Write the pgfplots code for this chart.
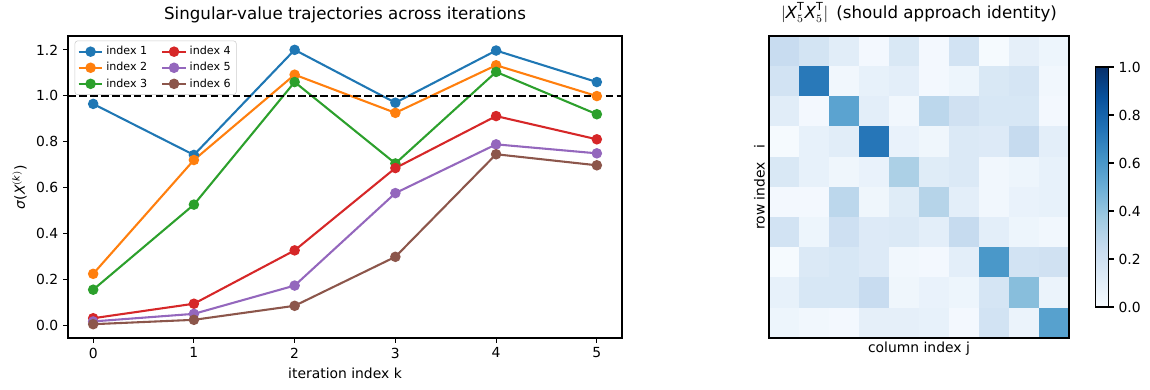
\documentclass[border=0pt]{standalone}
\usepackage{fontspec}
\setmainfont{DejaVu Sans}
\usepackage{amsmath}
\usepackage{pgfplots}
\pgfplotsset{compat=1.18}
\usepackage{pgfplotstable}

\definecolor{c1}{HTML}{1F77B4}
\definecolor{c2}{HTML}{FF7F0E}
\definecolor{c3}{HTML}{2CA02C}
\definecolor{c4}{HTML}{D62728}
\definecolor{c5}{HTML}{9467BD}
\definecolor{c6}{HTML}{8C564B}

\pgfplotstableread{
k s1 s2 s3 s4 s5 s6
0 0.965 0.226 0.157 0.033 0.019 0.007
1 0.743 0.721 0.527 0.096 0.052 0.026
2 1.200 1.092 1.060 0.328 0.175 0.087
3 0.970 0.926 0.706 0.686 0.577 0.300
4 1.197 1.133 1.104 0.912 0.789 0.746
5 1.060 0.999 0.920 0.811 0.750 0.698
}\traj

\pgfplotstableread{
x y c
0 0 0.24
1 0 0.18
2 0 0.11
3 0 0.02
4 0 0.15
5 0 0.02
6 0 0.19
7 0 0.01
8 0 0.09
9 0 0.05
0 1 0.19
1 1 0.72
2 1 0.03
3 1 0.08
4 1 0.10
5 1 0.02
6 1 0.05
7 1 0.15
8 1 0.17
9 1 0.03
0 2 0.11
1 2 0.02
2 2 0.55
3 2 0.10
4 2 0.03
5 2 0.28
6 2 0.20
7 2 0.16
8 2 0.16
9 2 0.02
0 3 0.01
1 3 0.08
2 3 0.11
3 3 0.73
4 3 0.07
5 3 0.04
6 3 0.14
7 3 0.13
8 3 0.25
9 3 0.10
0 4 0.15
1 4 0.08
2 4 0.04
3 4 0.07
4 4 0.33
5 4 0.12
6 4 0.14
7 4 0.03
8 4 0.05
9 4 0.08
0 5 0.02
1 5 0.02
2 5 0.28
3 5 0.04
4 5 0.12
5 5 0.30
6 5 0.10
7 5 0.03
8 5 0.07
9 5 0.08
0 6 0.19
1 6 0.05
2 6 0.21
3 6 0.13
4 6 0.14
5 6 0.10
6 6 0.25
7 6 0.10
8 6 0.05
9 6 0.03
0 7 0.01
1 7 0.14
2 7 0.16
3 7 0.13
4 7 0.03
5 7 0.02
6 7 0.10
7 7 0.60
8 7 0.19
9 7 0.20
0 8 0.08
1 8 0.16
2 8 0.16
3 8 0.24
4 8 0.04
5 8 0.07
6 8 0.05
7 8 0.17
8 8 0.43
9 8 0.06
0 9 0.05
1 9 0.03
2 9 0.02
3 9 0.09
4 9 0.09
5 9 0.08
6 9 0.02
7 9 0.19
8 9 0.06
9 9 0.56
}\gram

\newcommand{\iX}{\text{\itshape X}}

\begin{document}
\begin{tikzpicture}
\pgfplotsset{
  every axis/.append style={
    scale only axis,
    tick align=outside,
    major tick length=3.5pt,
    tick style={black, line width=0.8pt},
    axis line style={line width=0.8pt},
    tick label style={font=\fontsize{10}{12}\selectfont},
    label style={font=\fontsize{10}{12}\selectfont},
    title style={font=\fontsize{12}{14}\selectfont},
    /pgf/number format/assume math mode=true,
  },
}
\begin{axis}[
  at={(0pt,0pt)}, anchor=south west,
  width=398.9pt, height=217.4pt,
  xmin=-0.25, xmax=5.25, ymin=-0.053, ymax=1.26,
  xtick={0,1,2,3,4,5},
  ytick={0,0.2,0.4,0.6,0.8,1.0,1.2},
  xtick pos=bottom, ytick pos=left,
  yticklabel style={/pgf/number format/.cd, fixed, fixed zerofill, precision=1},
  xlabel={iteration index k},
  ylabel={\itshape σ\upshape(\itshape X\upshape$^{(\text{\itshape k})}$)},
  title={Singular-value trajectories across iterations},
  legend style={at={(0.012,0.985)}, anchor=north west, font=\fontsize{8}{9.5}\selectfont,
    draw=black!20, fill=white, rounded corners=2pt, legend columns=3,
    /tikz/every even column/.append style={column sep=8pt},
    inner sep=2pt, row sep=0pt},
  transpose legend,
  legend cell align=left,
  every axis plot/.append style={line width=1.5pt, mark=*, mark size=3pt},
]
\addplot[c1, mark options={fill=c1}] table[x=k, y=s1] {\traj};
\addlegendentry{index 1}
\addplot[c2, mark options={fill=c2}] table[x=k, y=s2] {\traj};
\addlegendentry{index 2}
\addplot[c3, mark options={fill=c3}] table[x=k, y=s3] {\traj};
\addlegendentry{index 3}
\addplot[c4, mark options={fill=c4}] table[x=k, y=s4] {\traj};
\addlegendentry{index 4}
\addplot[c5, mark options={fill=c5}] table[x=k, y=s5] {\traj};
\addlegendentry{index 5}
\addplot[c6, mark options={fill=c6}] table[x=k, y=s6] {\traj};
\addlegendentry{index 6}
\addplot[black, dashed, line width=1.5pt, mark=none, dash pattern=on 5.5pt off 2.4pt, forget plot] coordinates {(-0.25,1) (5.25,1)};
\end{axis}

\begin{axis}[
  at={(504.7pt,0pt)}, anchor=south west,
  width=216pt, height=217.4pt,
  xmin=-0.5, xmax=9.5, ymin=-0.5, ymax=9.5,
  y dir=reverse,
  axis on top,
  xtick=\empty, ytick=\empty,
  xlabel={column index j},
  ylabel={row index\quad i},
  xlabel style={yshift=4pt},
  ylabel style={yshift=-4pt},
  title={$|\iX_5^{\text{T}}\iX_5^{\text{T}}|$\enspace (should approach identity)},
  colormap={blues}{rgb255=(247,251,255) rgb255=(222,235,247) rgb255=(198,219,239) rgb255=(158,202,225) rgb255=(107,174,214) rgb255=(66,146,198) rgb255=(33,113,181) rgb255=(8,81,156) rgb255=(8,48,107)},
  point meta min=0, point meta max=1,
  colorbar,
  colorbar style={
    at={(parent axis.east)}, anchor=west, xshift=10.8pt,
    width=9.4pt, height=172.8pt,
    ytick={0,0.2,0.4,0.6,0.8,1.0},
    yticklabel style={/pgf/number format/.cd, fixed, fixed zerofill, precision=1},
    ytick pos=right,
    tick align=outside,
    major tick length=3.5pt,
  },
]
\addplot[matrix plot*, mesh/cols=10, point meta=explicit] table[x=x, y=y, meta=c] {\gram};
\end{axis}
\pgfresetboundingbox
\path (-48.96pt,-37.44pt) rectangle (779.04pt,243.36pt);
\end{tikzpicture}
\end{document}
